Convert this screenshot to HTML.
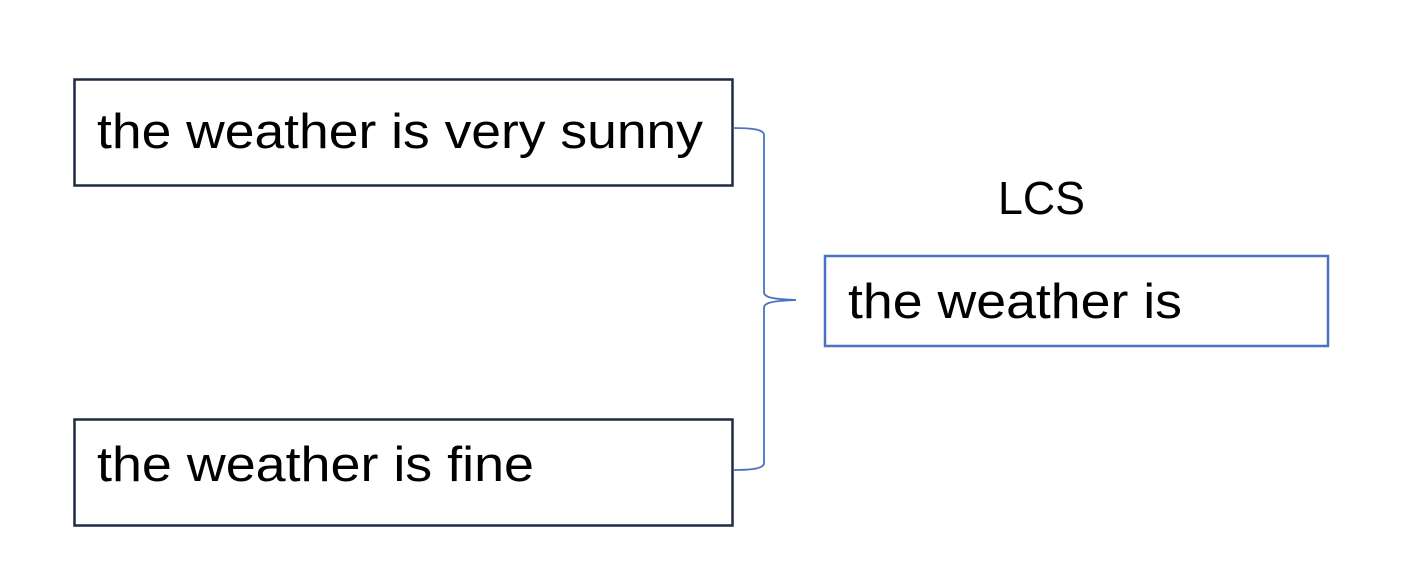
<!DOCTYPE html>
<html><head><meta charset="utf-8"><style>
html,body{margin:0;padding:0;background:#fff;}
svg{display:block;}
text{font-family:"Liberation Sans",sans-serif;fill:#000;}
</style></head><body>
<svg width="1428" height="570" viewBox="0 0 1428 570" xmlns="http://www.w3.org/2000/svg">
<rect x="74.5" y="79.5" width="658" height="106" fill="#fff" stroke="#1f2a44" stroke-width="2.5"/>
<rect x="74.5" y="419.5" width="658" height="106" fill="#fff" stroke="#1f2a44" stroke-width="2.5"/>
<rect x="825" y="256" width="503" height="90" fill="#fff" stroke="#4a72c0" stroke-width="2.5"/>
<path d="M733,128 C750,128 764,129 764,135 L764,292 C764,297 770,299 796,300 C770,301 764,303 764,308 L764,463 C764,469 750,470 733,470" fill="none" stroke="#4a72c0" stroke-width="1.8"/>
<text x="97" y="148" font-size="49" textLength="606" lengthAdjust="spacingAndGlyphs">the weather is very sunny</text>
<text x="97" y="481" font-size="49" textLength="437" lengthAdjust="spacingAndGlyphs">the weather is fine</text>
<text x="848" y="318" font-size="49" textLength="334" lengthAdjust="spacingAndGlyphs">the weather is</text>
<text x="998" y="214" font-size="46" textLength="87" lengthAdjust="spacingAndGlyphs">LCS</text>
</svg>
</body></html>
